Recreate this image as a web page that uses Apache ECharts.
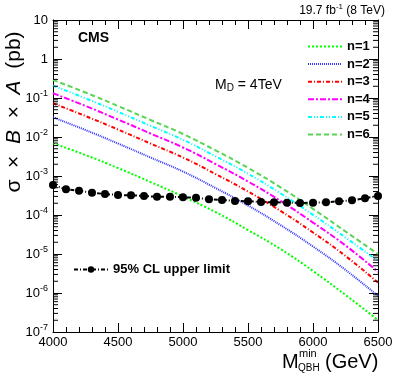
<!DOCTYPE html>
<html>
<head>
<meta charset="utf-8">
<script src="https://cdn.jsdelivr.net/npm/echarts@6/dist/echarts.min.js"></script>
<style>
  html, body { margin: 0; padding: 0; background: #fff; }
  #chart { width: 399px; height: 383px; }
</style>
</head>
<body>
<div id="chart"></div>
<script>
// masses (GeV) for theory curves
const massGrid = [4000, 4250, 4500, 4750, 5000, 5250, 5500, 5750, 6000, 6250, 6500]
// sigma x B x A (pb)
const xsN1 = [6.9e-3, 3.45e-3, 1.6e-3, 7.0e-4, 2.98e-4, 1.19e-4, 4.1e-5, 1.34e-5, 3.66e-6, 8.9e-7, 2.03e-7]
const xsN2 = [3.2e-2, 1.51e-2, 6.8e-3, 2.98e-3, 1.30e-3, 4.92e-4, 1.75e-4, 5.5e-5, 1.56e-5, 3.9e-6, 8.4e-7]
const xsN3 = [7.31e-2, 3.45e-2, 1.557e-2, 6.8e-3, 2.98e-3, 1.125e-3, 4.0e-4, 1.27e-4, 3.56e-5, 8.9e-6, 1.84e-6]
const xsN4 = [0.132, 6.24e-2, 2.81e-2, 1.23e-2, 5.38e-3, 2.03e-3, 7.2e-4, 2.29e-4, 6.4e-5, 1.65e-5, 3.5e-6]
const xsN5 = [0.207, 9.82e-2, 4.43e-2, 1.937e-2, 8.48e-3, 3.2e-3, 1.14e-3, 3.6e-4, 1.01e-4, 2.65e-5, 6.6e-6]
const xsN6 = [0.29, 0.138, 6.24e-2, 2.73e-2, 1.194e-2, 4.56e-3, 1.62e-3, 5.13e-4, 1.44e-4, 3.78e-5, 1.0e-5]

// observed 95% CL upper limit, every 100 GeV
const limitMass = [4000, 4100, 4200, 4300, 4400, 4500, 4600, 4700, 4800, 4900, 5000, 5100, 5200,
  5300, 5400, 5500, 5600, 5700, 5800, 5900, 6000, 6100, 6200, 6300, 6400, 6500]
const limitXs = [5.87e-4, 4.56e-4, 4.2e-4, 3.73e-4, 3.45e-4, 3.26e-4, 3.2e-4, 3.07e-4, 2.94e-4, 2.94e-4,
  2.84e-4, 2.78e-4, 2.53e-4, 2.43e-4, 2.29e-4, 2.25e-4, 2.15e-4, 2.12e-4, 2.07e-4, 2.03e-4,
  2.07e-4, 2.12e-4, 2.25e-4, 2.38e-4, 2.68e-4, 3.07e-4]

const curveNames = ['n=1', 'n=2', 'n=3', 'n=4', 'n=5', 'n=6']
const limitName = '95% CL upper limit'

// log-spaced minor ticks for the y axes (2..9 x 10^e)
const yMinorTicks = []
for (let e = -7; e <= 0; e++) {
  for (let k = 2; k <= 9; k++) yMinorTicks.push(k * Math.pow(10, e))
}

const chart = echarts.init(document.getElementById('chart'))

const pairs = (xs, ys) => xs.map((x, i) => [x, ys[i]])

// styles for n=1..6
const curveStyles = [
  { color: '#00ff00', type: [2, 2] },
  { color: '#3333ff', type: [1, 1] },
  { color: '#ff0000', type: [4, 2, 1, 2] },
  { color: '#ff00ff', type: [6, 2, 2, 2] },
  { color: '#00ffff', type: [4, 2, 1, 2, 1, 2] },
  { color: '#59d454', type: [5, 3] }
]
const curveData = [xsN1, xsN2, xsN3, xsN4, xsN5, xsN6]

const font = 'Liberation Sans, Arial, Helvetica, sans-serif'

const series = curveNames.map((name, i) => ({
  name,
  type: 'line',
  smooth: true,
  symbol: 'none',
  data: pairs(massGrid, curveData[i]),
  lineStyle: { color: curveStyles[i].color, width: 2, type: curveStyles[i].type },
  itemStyle: { color: curveStyles[i].color },
  z: 3
}))

series.push({
  name: limitName,
  type: 'line',
  data: pairs(limitMass, limitXs),
  symbol: 'circle',
  symbolSize: 8,
  itemStyle: { color: '#000' },
  lineStyle: { color: '#000', width: 2, type: [4, 2, 1, 2] },
  z: 4
})

// minor ticks on both log axes, placed through the axis scale
series.push({
  type: 'custom',
  silent: true,
  clip: false,
  z: 5,
  data: yMinorTicks.map(v => [4000, v]),
  renderItem: (params, api) => {
    const v = api.value(1)
    const l = api.coord([4000, v])
    const r = api.coord([6500, v])
    const st = { stroke: '#000', lineWidth: 1 }
    return {
      type: 'group',
      children: [
        { type: 'line', shape: { x1: l[0], y1: l[1], x2: l[0] + 5, y2: l[1] }, style: st },
        { type: 'line', shape: { x1: r[0], y1: r[1], x2: r[0] - 5, y2: r[1] }, style: st }
      ]
    }
  }
})

const legendText = { fontFamily: font, fontSize: 13, fontWeight: 'bold', color: '#000' }

const option = {
  animation: false,
  backgroundColor: '#fff',
  grid: { left: 53, right: 21, top: 20, bottom: 51 },
  legend: [
    {
      data: curveNames,
      orient: 'vertical',
      left: 302,
      top: 35,
      itemWidth: 34,
      itemHeight: 14,
      itemGap: 4.6,
      itemStyle: { opacity: 0 },
      textStyle: legendText
    },
    {
      data: [limitName],
      left: 68,
      top: 258,
      itemWidth: 34,
      itemHeight: 8,
      textStyle: legendText
    }
  ],
  xAxis: [
    {
      type: 'value',
      min: 4000,
      max: 6500,
      interval: 500,
      axisLine: { lineStyle: { color: '#000', width: 1 } },
      axisTick: { inside: true, length: 9, lineStyle: { color: '#000' } },
      minorTick: { show: true, splitNumber: 5, length: 5, lineStyle: { color: '#000' } },
      splitLine: { show: false },
      axisLabel: { fontFamily: font, fontSize: 13, color: '#000', margin: 4, formatter: v => String(v) }
    },
    {
      type: 'value',
      position: 'top',
      min: 4000,
      max: 6500,
      interval: 500,
      axisLine: { lineStyle: { color: '#000', width: 1 } },
      axisTick: { inside: true, length: 9, lineStyle: { color: '#000' } },
      minorTick: { show: true, splitNumber: 5, length: 5, lineStyle: { color: '#000' } },
      splitLine: { show: false },
      axisLabel: { show: false }
    }
  ],
  yAxis: [
    {
      type: 'log',
      logBase: 10,
      min: 1e-7,
      max: 10,
      axisLine: { show: true, lineStyle: { color: '#000', width: 1 } },
      axisTick: { show: true, inside: true, length: 9, lineStyle: { color: '#000' } },
      splitLine: { show: false },
      axisLabel: {
        fontFamily: font,
        fontSize: 13,
        color: '#000',
        margin: 5,
        formatter: v => {
          const e = Math.round(Math.log10(v))
          if (e === 1) return '10'
          if (e === 0) return '1'
          return '10{sup|' + e + '}'
        },
        rich: { sup: { fontSize: 9, fontFamily: font, color: '#000', padding: [0, 0, 8, 0] } }
      }
    },
    {
      type: 'log',
      logBase: 10,
      min: 1e-7,
      max: 10,
      position: 'right',
      axisLine: { show: true, lineStyle: { color: '#000', width: 1 } },
      axisTick: { show: true, inside: true, length: 9, lineStyle: { color: '#000' } },
      splitLine: { show: false },
      axisLabel: { show: false }
    }
  ],
  series,
  graphic: [
    {
      type: 'text', left: 78, top: 31,
      style: { text: 'CMS', font: 'bold 14px ' + font, fill: '#000' }
    },
    {
      type: 'text', right: 14, top: 3,
      style: {
        text: '19.7 fb{s|-1} (8 TeV)',
        font: '12px ' + font,
        fill: '#000',
        rich: { s: { fontSize: 8, fontFamily: font, padding: [0, 0, 7, 0] } }
      }
    },
    {
      type: 'text', left: 215, top: 78,
      style: {
        text: 'M{d|D} = 4TeV',
        font: '14px ' + font,
        fill: '#000',
        rich: { d: { fontSize: 10, fontFamily: font, padding: [6, 0, 0, 0] } }
      }
    },
    {
      type: 'text', x: 14, y: 112, rotation: Math.PI / 2,
      style: {
        text: '{n|σ  ×  }{i|B}{n|  ×  }{i|A}{n|  (pb)}',
        align: 'center',
        verticalAlign: 'middle',
        rich: {
          n: { fontSize: 21, fontFamily: font, color: '#000' },
          i: { fontSize: 21, fontFamily: font, fontStyle: 'italic', color: '#000' }
        }
      }
    },
    { type: 'text', left: 282, top: 352, style: { text: 'M', font: '20px ' + font, fill: '#000' } },
    { type: 'text', left: 299, top: 348, style: { text: 'min', font: '11px ' + font, fill: '#000' } },
    { type: 'text', left: 298, top: 363, style: { text: 'QBH', font: '10px ' + font, fill: '#000' } },
    { type: 'text', left: 325, top: 352, style: { text: '(GeV)', font: '20px ' + font, fill: '#000' } }
  ]
}

chart.setOption(option)
window.addEventListener('resize', () => chart.resize())
</script>
</body>
</html>
